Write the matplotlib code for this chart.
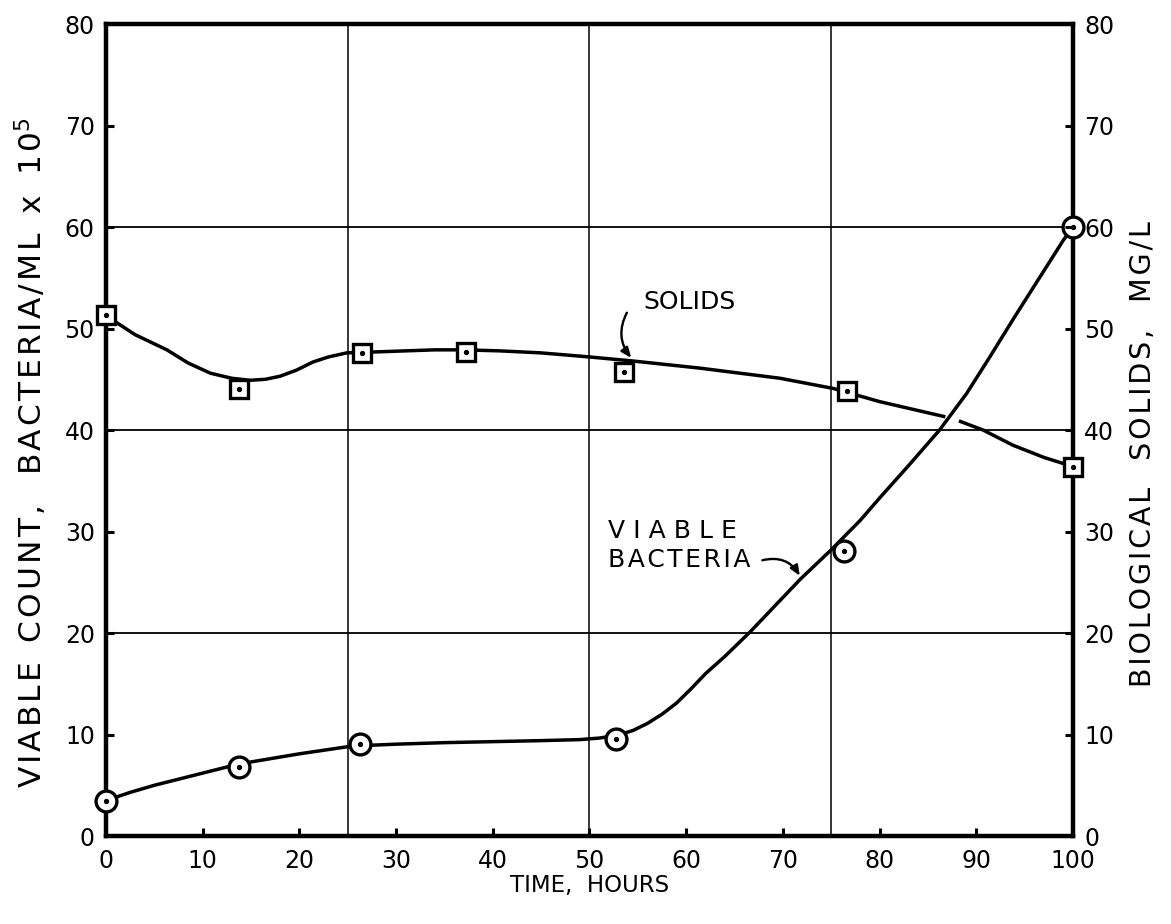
import numpy as np
import matplotlib
matplotlib.use("Agg")
import matplotlib.pyplot as plt
from matplotlib.patches import FancyArrowPatch

# Measured points
time_bacteria = [0, 13.8, 26.3, 52.7, 76.3, 100]
viable_bacteria = [3.5, 6.8, 9.1, 9.6, 28.1, 60.0]

time_solids = [0, 13.8, 26.5, 37.2, 53.6, 76.6, 100]
biological_solids = [51.3, 44.0, 47.6, 47.7, 45.7, 43.8, 36.4]

# Hand-fitted trend curves
bacteria_curve_x = [0, 2.5, 5, 7.5, 10, 12.5, 15, 17.5, 20, 22.5, 25, 27.5, 30, 35,
                    40, 45, 49, 51, 53, 54.5, 56, 57.5, 59, 60.5, 62, 64, 66.6,
                    69, 71.8, 75, 78, 80, 83, 86.2, 89, 91.4, 94, 96.2, 98, 99, 100]
bacteria_curve_y = [3.5, 4.3, 5.0, 5.6, 6.2, 6.8, 7.3, 7.7, 8.1, 8.45, 8.8, 8.95, 9.05, 9.2,
                    9.3, 9.4, 9.5, 9.65, 9.95, 10.4, 11.1, 12.0, 13.1, 14.5, 16.0, 17.7, 20.1,
                    22.5, 25.3, 28.2, 31.1, 33.3, 36.5, 40.0, 43.6, 47.2, 51.2, 54.5, 57.2, 58.7, 60.0]

solids_curve_x = [0, 0.75, 3, 6.3, 8.5, 10.8, 13, 14.9, 16.5, 18, 19.7, 21.4, 23, 24.9,
                  26.5, 28, 31, 34, 37, 40.7, 45, 50, 54.5, 61.4, 69.7, 75.2, 80, 86.8,
                  np.nan, 88.2, 90.7, 93.8, 97, 100]
solids_curve_y = [51.3, 50.8, 49.4, 47.9, 46.6, 45.6, 45.1, 44.9, 45.0, 45.3, 45.9, 46.7, 47.2, 47.6,
                  47.65, 47.7, 47.8, 47.9, 47.9, 47.8, 47.6, 47.2, 46.8, 46.1, 45.1, 44.1, 42.8, 41.3,
                  np.nan, 40.9, 40.0, 38.5, 37.3, 36.4]

x_ticks = list(range(0, 101, 10))
y_ticks = list(range(0, 81, 10))
grid_x = [25, 50, 75]
grid_y = [20, 40, 60]

plt.rcParams['font.family'] = ['DejaVu Sans']


def tracked(s):
    """Widen letter spacing with hair spaces, as in stencil lettering."""
    return '\u200a'.join(s)


fig = plt.figure(figsize=(11.71, 9.24), dpi=100)
fig.subplots_adjust(left=0.0905, right=0.9163, bottom=0.0952, top=0.974)
ax = fig.add_subplot(111)
ax.set_xlim(0, 100)
ax.set_ylim(0, 80)

for gx in grid_x:
    ax.axvline(gx, color='black', lw=1.1, zorder=1)
for gy in grid_y:
    ax.axhline(gy, color='black', lw=1.3, zorder=1)

ax.plot(solids_curve_x, solids_curve_y, color='black', lw=2.5, zorder=2,
        solid_capstyle='butt')
ax.plot(bacteria_curve_x, bacteria_curve_y, color='black', lw=2.5, zorder=2)

# Open markers with a center dot
ax.plot(time_bacteria, viable_bacteria, linestyle='none', marker='o', ms=15,
        mfc='white', mec='black', mew=2.4, zorder=4, clip_on=False)
ax.plot(time_bacteria, viable_bacteria, linestyle='none', marker='o', ms=2.8,
        mfc='black', mec='black', zorder=5, clip_on=False)
ax.plot(time_solids, biological_solids, linestyle='none', marker='s', ms=13.5,
        mfc='white', mec='black', mew=2.4, zorder=4, clip_on=False)
ax.plot(time_solids, biological_solids, linestyle='none', marker='o', ms=2.8,
        mfc='black', mec='black', zorder=5, clip_on=False)

for side in ['left', 'right', 'top', 'bottom']:
    ax.spines[side].set_linewidth(3.2)
    ax.spines[side].set_zorder(3)

ax.set_xticks(x_ticks)
ax.set_yticks(y_ticks)
ax.tick_params(axis='both', direction='in', length=6, width=2.2, labelsize=17, pad=8)
ax.tick_params(axis='x', pad=9)
ax.set_xticklabels([str(v) for v in x_ticks])

ax2 = ax.twinx()
ax2.set_ylim(0, 80)
ax2.set_yticks(y_ticks)
ax2.tick_params(axis='y', direction='in', length=6, width=2.2, labelsize=17, pad=8)
for side in ['left', 'right', 'top', 'bottom']:
    ax2.spines[side].set_visible(False)

ax.set_xlabel('TIME,  HOURS', fontsize=16.5, labelpad=1)
left_label = (tracked('VIABLE') + '  ' + tracked('COUNT,') + '   ' +
              tracked('BACTERIA/ML') + '  x  ' + tracked('10') + '$^5$')
ax.set_ylabel(left_label, fontsize=22.5)
ax.yaxis.set_label_coords(-0.059, 0.472)
right_label = tracked('BIOLOGICAL') + '   ' + tracked('SOLIDS,') + '   ' + tracked('MG/L')
ax2.set_ylabel(right_label, fontsize=20.5, rotation=90)
ax2.yaxis.set_label_coords(1.058, 0.47)

# Annotations
ax.text(55.6, 52.6, 'SOLIDS', fontsize=18, ha='left', va='center')
ax.add_patch(FancyArrowPatch((54.0, 51.8), (54.5, 46.9),
                             connectionstyle='arc3,rad=0.35', arrowstyle='-|>,head_length=6,head_width=2.5',
                             color='black', lw=1.7, zorder=3))

ax.text(51.9, 30.1, 'V I A B L E', fontsize=18, ha='left', va='center')
ax.text(51.9, 27.2, tracked('BACTERIA'), fontsize=18, ha='left', va='center')
ax.add_patch(FancyArrowPatch((67.6, 27.1), (71.9, 25.4),
                             connectionstyle='arc3,rad=-0.4', arrowstyle='-|>,head_length=6,head_width=2.5',
                             color='black', lw=1.7, zorder=3))

fig.savefig('out.png', dpi=100)
